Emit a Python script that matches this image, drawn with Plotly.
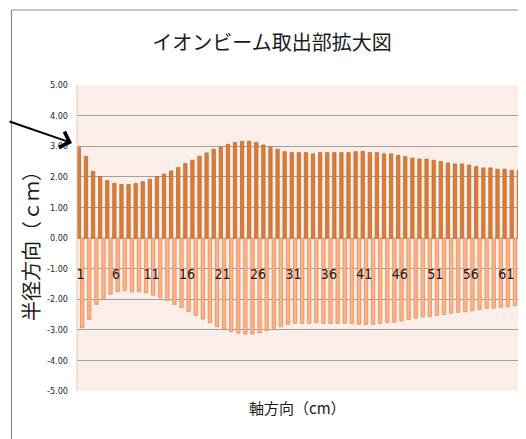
import plotly.graph_objects as go

# ---- data ----
positions = list(range(1, 64))
upper_radius = [2.95, 2.67, 2.18, 2.01, 1.88, 1.79, 1.75, 1.75, 1.78, 1.84,
                1.92, 2.01, 2.09, 2.19, 2.30, 2.43, 2.54, 2.67, 2.78, 2.90,
                2.97, 3.06, 3.12, 3.16, 3.16, 3.12, 3.04, 2.96, 2.90, 2.82,
                2.79, 2.79, 2.79, 2.75, 2.79, 2.79, 2.79, 2.79, 2.79, 2.82,
                2.83, 2.79, 2.79, 2.75, 2.75, 2.70, 2.66, 2.61, 2.58, 2.58,
                2.54, 2.50, 2.45, 2.42, 2.42, 2.38, 2.33, 2.29, 2.29, 2.25,
                2.25, 2.21, 2.21]
lower_radius = [-2.93, -2.66, -2.17, -1.97, -1.84, -1.76, -1.72, -1.76, -1.76, -1.79,
                -1.87, -1.95, -2.04, -2.17, -2.28, -2.41, -2.53, -2.65, -2.77, -2.90,
                -2.98, -3.06, -3.11, -3.14, -3.14, -3.10, -3.03, -2.95, -2.90, -2.82,
                -2.79, -2.79, -2.79, -2.77, -2.79, -2.79, -2.79, -2.79, -2.80, -2.82,
                -2.83, -2.82, -2.79, -2.76, -2.75, -2.71, -2.66, -2.62, -2.58, -2.57,
                -2.54, -2.50, -2.46, -2.43, -2.41, -2.38, -2.34, -2.30, -2.29, -2.26,
                -2.25, -2.21, -2.20]
x_tick_vals = [1, 6, 11, 16, 21, 26, 31, 36, 41, 46, 51, 56, 61]
x_tick_text = ["1", "6", "11", "16", "21", "26", "31", "36", "41", "46", "51", "56", "61"]
y_tick_vals = [5, 4, 3, 2, 1, 0, -1, -2, -3, -4, -5]
y_tick_text = ["5.00", "4.00", "3.00", "2.00", "1.00", "0.00",
               "-1.00", "-2.00", "-3.00", "-4.00", "-5.00"]

title_text = "イオンビーム取出部拡大図"
x_title = "軸方向（cm）"
y_title = "半径方向（ｃｍ）"

CJK = "Noto Sans CJK JP, sans-serif"
NARROW = "Liberation Sans Narrow, DejaVu Sans Condensed, Liberation Sans, sans-serif"

fig = go.Figure()
fig.add_trace(go.Bar(
    x=positions, y=upper_radius, name="upper",
    marker=dict(color="#D97E3A", line=dict(color="#C26A2B", width=0.8)),
))
fig.add_trace(go.Bar(
    x=positions, y=lower_radius, name="lower",
    marker=dict(color="#F9B48A", line=dict(color="#EA8C55", width=0.8)),
))

# the page body has an 8px margin; figure coords = screen coords - 8
OFF = 8
W, H = 526 - OFF, 439 - OFF
L, R, T, B = 77 - OFF, 2, 85 - OFF, 48
pw = W - L - R
ph = H - T - B

def px_x(p):
    return (p - OFF - L) / pw

def px_y(p):
    return (H - B - (p - OFF)) / ph

fig.update_layout(
    width=W, height=H,
    margin=dict(l=L, r=R, t=T, b=B, autoexpand=False),
    paper_bgcolor="white",
    plot_bgcolor="#FCEEE8",
    barmode="group",
    bargap=0.07,
    bargroupgap=0,
    showlegend=False,
    title=dict(text=title_text, x=(272 - OFF) / W, y=1 - (43 - OFF) / H,
               xanchor="center", yanchor="middle", automargin=False,
               font=dict(family=CJK, size=20, color="#1a1a1a")),
    xaxis=dict(
        range=[0.5, 63.5], automargin=False,
        tickmode="array", tickvals=x_tick_vals, ticktext=x_tick_text,
        anchor="free", position=px_y(264),
        showgrid=False, showline=False, zeroline=False, ticks="",
        tickfont=dict(family=NARROW, size=14, color="#1a1a1a"),
    ),
    yaxis=dict(
        range=[-5, 5], automargin=False,
        tickmode="array", tickvals=y_tick_vals, ticktext=y_tick_text,
        showgrid=True, gridcolor="#A0A0A0", gridwidth=1,
        zeroline=False, showline=False, ticks="",
        ticklabelstandoff=8,
        tickfont=dict(family=NARROW, size=9, color="#262626"),
    ),
    annotations=[
        dict(text=x_title, xref="paper", yref="paper", x=px_x(297), y=px_y(407),
             showarrow=False, xanchor="center", yanchor="middle",
             font=dict(family=CJK, size=15, color="#1a1a1a")),
        dict(text=y_title, xref="paper", yref="paper", x=px_x(30), y=px_y(241),
             showarrow=False, xanchor="center", yanchor="middle", textangle=-90,
             font=dict(family=CJK, size=20, color="#1a1a1a")),
        dict(text="", xref="paper", yref="paper", x=px_x(72), y=px_y(143),
             showarrow=True, arrowhead=4, arrowsize=1.6, arrowwidth=2,
             arrowcolor="black", ax=-80, ay=-22),
    ],
    shapes=[
        dict(type="line", xref="paper", yref="paper",
             x0=px_x(11.5), x1=px_x(540), y0=px_y(10), y1=px_y(10),
             line=dict(color="#8C8C8C", width=1.2)),
        dict(type="line", xref="paper", yref="paper",
             x0=px_x(11.5), x1=px_x(11.5), y0=px_y(10), y1=px_y(450),
             line=dict(color="#8C8C8C", width=1.2)),
        dict(type="line", xref="paper", yref="paper",
             x0=0, x1=0, y0=0, y1=1,
             line=dict(color="#E6C7B8", width=1)),
    ],
)

fig.write_html("out.html")
